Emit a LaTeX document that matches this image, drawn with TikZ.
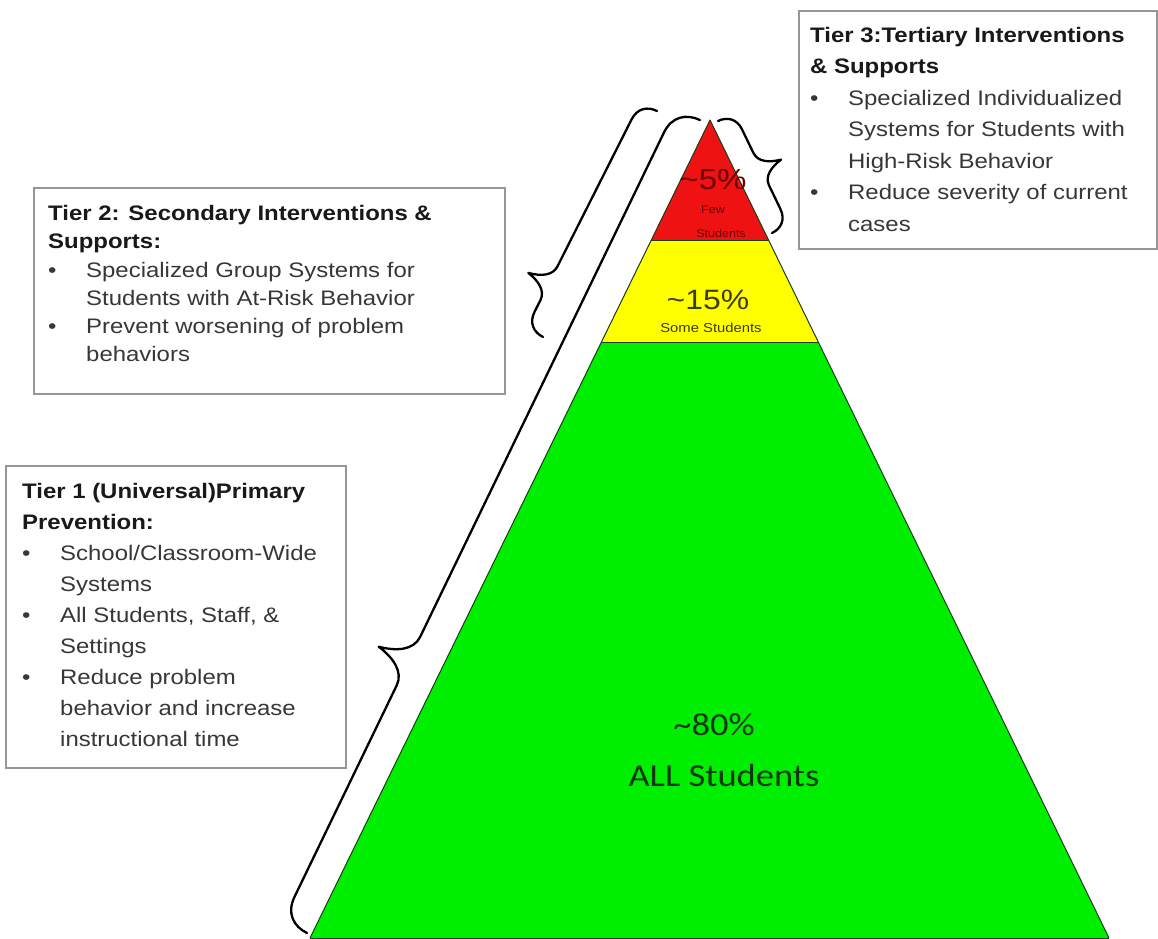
\documentclass[tikz,border=0pt]{standalone}
\usepackage{fontspec}
\newfontfamily\arialf{Liberation Sans}[FakeStretch=1.14]
\newfontfamily\calf{Carlito}[FakeStretch=1.14]
\usetikzlibrary{calc,decorations}
\definecolor{redband}{RGB}{238,18,18}
\definecolor{yelband}{RGB}{255,255,0}
\definecolor{grnband}{RGB}{0,238,0}
\definecolor{edgec}{RGB}{25,60,25}
\definecolor{boxline}{RGB}{150,150,150}
\definecolor{titlec}{RGB}{25,25,25}
\definecolor{bodyc}{RGB}{55,55,55}
\definecolor{darkred}{RGB}{110,0,0}
\definecolor{olivec}{RGB}{60,60,10}
\definecolor{greentext}{RGB}{15,55,15}
\newcommand{\bulx}{\makebox[38pt][l]{\textbullet}}
\newcommand{\indx}{\hspace*{38pt}}
\pgfdeclaredecoration{pbrace}{brace}{%
  \state{brace}[width=+\pgfdecoratedremainingdistance,next state=final]{%
    \pgfpathmoveto{\pgfpointorigin}%
    \pgfpathcurveto{\pgfqpoint{0pt}{.25\pgfdecorationsegmentamplitude}}{\pgfqpoint{.15\pgfdecorationsegmentamplitude}{.45\pgfdecorationsegmentamplitude}}{\pgfqpoint{.45\pgfdecorationsegmentamplitude}{.45\pgfdecorationsegmentamplitude}}%
    {%
      \pgftransformxshift{+\pgfdecorationsegmentaspect\pgfdecoratedremainingdistance}%
      \pgfpathlineto{\pgfqpoint{-.45\pgfdecorationsegmentamplitude}{.45\pgfdecorationsegmentamplitude}}%
      \pgfpathcurveto{\pgfqpoint{-.2\pgfdecorationsegmentamplitude}{.45\pgfdecorationsegmentamplitude}}{\pgfqpoint{-.06\pgfdecorationsegmentamplitude}{.7\pgfdecorationsegmentamplitude}}{\pgfqpoint{0pt}{\pgfdecorationsegmentamplitude}}%
      \pgfpathcurveto{\pgfqpoint{.06\pgfdecorationsegmentamplitude}{.7\pgfdecorationsegmentamplitude}}{\pgfqpoint{.2\pgfdecorationsegmentamplitude}{.45\pgfdecorationsegmentamplitude}}{\pgfqpoint{.45\pgfdecorationsegmentamplitude}{.45\pgfdecorationsegmentamplitude}}%
    }%
    {%
      \pgftransformxshift{+\pgfdecoratedremainingdistance}%
      \pgfpathlineto{\pgfqpoint{-.45\pgfdecorationsegmentamplitude}{.45\pgfdecorationsegmentamplitude}}%
      \pgfpathcurveto{\pgfqpoint{-.15\pgfdecorationsegmentamplitude}{.45\pgfdecorationsegmentamplitude}}{\pgfqpoint{0pt}{.25\pgfdecorationsegmentamplitude}}{\pgfqpoint{0pt}{0pt}}%
    }%
  }%
  \state{final}{}%
}
\tikzset{
  infobox/.style={draw=boxline, line width=2pt, fill=white, anchor=north west, inner sep=0pt},
  boxtext/.style={anchor=north west, inner sep=0pt, align=left, text=bodyc},
  bracel/.style={draw=black, line width=2.3pt, line cap=round, line join=round, decorate},
  bandedge/.style={draw=edgec, line width=1pt, line join=round},
  pyrtext/.style={inner sep=0pt, anchor=center}
}
\begin{document}
\begin{tikzpicture}[x=1pt,y=-1pt]
\useasboundingbox[fill=white] (0,0) rectangle (1158,938);
% pyramid
\coordinate (apex) at (710,120);
\coordinate (bl) at (310,938);
\coordinate (br) at (1109,938);
\coordinate (rl) at ($(apex)!0.1479!(bl)$);
\coordinate (rr) at ($(apex)!0.1479!(br)$);
\coordinate (yl) at ($(apex)!0.2714!(bl)$);
\coordinate (yr) at ($(apex)!0.2714!(br)$);
\fill[grnband] (yl) -- (bl) -- (br) -- (yr) -- cycle;
\fill[yelband] (rl) -- (yl) -- (yr) -- (rr) -- cycle;
\fill[redband] (apex) -- (rl) -- (rr) -- cycle;
\draw[bandedge] (bl) -- (apex) -- (br);
\draw[bandedge] (rl) -- (rr);
\draw[bandedge] (yl) -- (yr);
\draw[bandedge] (bl) -- (br);
% pyramid labels
\node[pyrtext, text=darkred, font={\arialf\fontsize{29}{30}\selectfont}] (p5) at (713,180) {\textasciitilde5\%};
\node[pyrtext, text=darkred, font={\arialf\fontsize{11}{12}\selectfont}] (pfew) at (713,210) {Few};
\node[pyrtext, text=darkred, font={\arialf\fontsize{11}{12}\selectfont}] (pfs) at (721,234) {Students};
\node[pyrtext, text=olivec, font={\arialf\fontsize{28}{30}\selectfont}] (p15) at (708,300) {\textasciitilde15\%};
\node[pyrtext, text=olivec, font={\arialf\fontsize{13}{14}\selectfont}] (psome) at (711,328) {Some Students};
\node[pyrtext, text=greentext, font={\calf\fontsize{32}{34}\selectfont}] (p80) at (714,725) {\textasciitilde80\%};
\node[pyrtext, text=greentext, font={\calf\fontsize{32}{34}\selectfont}] (pall) at (724,775) {ALL Students};
% braces
\coordinate (b1s) at (307,933);
\coordinate (b1e) at (700,120);
\coordinate (b2s) at (543,337);
\coordinate (b2e) at (657,111);
\coordinate (b3s) at (718,121);
\coordinate (b3e) at (772,233);
\draw[bracel, decoration={pbrace, amplitude=60pt, aspect=0.32}] (b1s) -- (b1e);
\draw[bracel, decoration={pbrace, amplitude=42pt, aspect=0.2}] (b2s) -- (b2e);
\draw[bracel, decoration={pbrace, amplitude=40pt, aspect=0.5}] (b3s) -- (b3e);
% boxes
\node[infobox, minimum width=471pt, minimum height=206pt] (t2box) at (33,187) {};
\node[infobox, minimum width=340pt, minimum height=302pt] (t1box) at (5,465) {};
\node[infobox, minimum width=358pt, minimum height=238pt] (t3box) at (798,10) {};
\node[boxtext, font={\arialf\fontsize{21}{28.3}\selectfont}] (t2text) at (48,205) {%
{\color{titlec}\bfseries Tier 2: Secondary Interventions \&}\\
{\color{titlec}\bfseries Supports:}\\
\bulx Specialized Group Systems for\\
\indx Students with At-Risk Behavior\\
\bulx Prevent worsening of problem\\
\indx behaviors};
\node[boxtext, font={\arialf\fontsize{21}{31}\selectfont}] (t1text) at (22,483) {%
{\color{titlec}\bfseries Tier 1 (Universal)Primary}\\
{\color{titlec}\bfseries Prevention:}\\
\bulx School/Classroom-Wide\\
\indx Systems\\
\bulx All Students, Staff, \&\\
\indx Settings\\
\bulx Reduce problem\\
\indx behavior and increase\\
\indx instructional time};
\node[boxtext, font={\arialf\fontsize{21}{31.5}\selectfont}] (t3text) at (810,27) {%
{\color{titlec}\bfseries Tier 3:Tertiary Interventions}\\
{\color{titlec}\bfseries \& Supports}\\
\bulx Specialized Individualized\\
\indx Systems for Students with\\
\indx High-Risk Behavior\\
\bulx Reduce severity of current\\
\indx cases};
\end{tikzpicture}
\end{document}
